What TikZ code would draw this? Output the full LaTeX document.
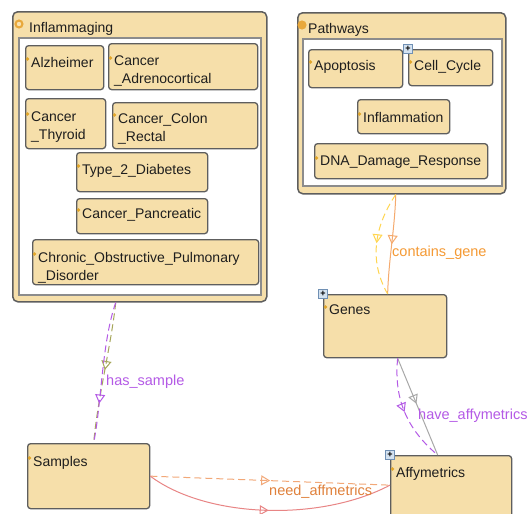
\documentclass[tikz,border=0pt]{standalone}
\usepackage{fontspec}
\setmainfont{Liberation Sans}
\usetikzlibrary{arrows.meta,decorations.markings}
\definecolor{boxfill}{HTML}{F6DFAA}
\definecolor{boxline}{HTML}{5E5E5E}
\definecolor{innerline}{HTML}{8C8C8C}
\definecolor{txtc}{HTML}{1E1E1E}
\definecolor{dotc}{HTML}{E2A62A}
\definecolor{iconor}{HTML}{E8A83C}
\definecolor{iconlt}{HTML}{F8E2B0}
\definecolor{cgline}{HTML}{F5AA6E}
\definecolor{cglabel}{HTML}{F59A34}
\definecolor{cgyel}{HTML}{FFD650}
\definecolor{purp}{HTML}{B45AE6}
\definecolor{olive}{HTML}{A6A65A}
\definecolor{grayl}{HTML}{A8A8A8}
\definecolor{needd}{HTML}{F2A878}
\definecolor{needl}{HTML}{E0803A}
\definecolor{redl}{HTML}{E88585}
\definecolor{plusfill}{HTML}{D4E2F0}
\definecolor{plusline}{HTML}{7090B4}
\tikzset{
  box/.style={draw=boxline, fill=boxfill, rounded corners=3pt, line width=1.3pt, anchor=north west, inner sep=0pt},
  outerbox/.style={draw=boxline, fill=boxfill, rounded corners=5pt, line width=1.5pt, anchor=north west, inner sep=0pt},
  innerbox/.style={draw=innerline, fill=white, line width=1.5pt, anchor=north west, inner sep=0pt},
  txt/.style={anchor=north west, inner sep=0pt, align=left, text=txtc, font=\fontsize{14}{18}\selectfont},
  elabel/.style={anchor=west, inner sep=0pt, font=\fontsize{14.5}{18}\selectfont},
  plusicon/.style={draw=plusline, fill=plusfill, line width=0.8pt, minimum size=9pt, inner sep=0pt, font=\fontsize{9}{9}\selectfont\bfseries},
  marr/.style={postaction={decorate}, decoration={markings, mark=at position #1 with {\arrow{Triangle[open,width=10pt,length=9pt,line width=1pt]}}}},
  edge/.style={line width=1pt},
  dashedge/.style={line width=1pt, dash pattern=on 7pt off 4pt},
}
\newcommand\cbox[7]{%
  \node[box, minimum width=#4, minimum height=#5] (#1) at (#2,#3) {};
  \fill[dotc] ([shift={(2.5,#6+2)}]#1.north west) circle (1.8);
  \node[txt] (#1t) at ([shift={(6,#6)}]#1.north west) {#7};}
\begin{document}
\begin{tikzpicture}[x=1pt,y=-1pt]
\useasboundingbox (0,0) rectangle (531,514);
\clip (0,0) rectangle (531,514);
\fill[white] (0,0) rectangle (531,514);

% Inflammaging group
\node[outerbox, minimum width=254, minimum height=290] (infl) at (12,11) {};
\node[innerbox, minimum width=242, minimum height=257] (inflin) at (18,37) {};
\fill[iconor] ([shift={(7,13)}]infl.north west) circle (4.6);
\fill[iconlt] ([shift={(7,13)}]infl.north west) circle (2.2);
\node[txt] (inflt) at ([shift={(17,11)}]infl.north west) {Inflammaging};

\cbox{alz}{25}{45}{78}{44}{12}{Alzheimer}
\cbox{adr}{108}{43}{149}{46}{13}{Cancer\\\_Adrenocortical}
\cbox{thy}{25}{98}{80}{50}{14}{Cancer\\\_Thyroid}
\cbox{col}{112}{102}{145}{46}{11}{Cancer\_Colon\\\_Rectal}
\cbox{tdm}{76}{152}{131}{39}{12}{Type\_2\_Diabetes}
\cbox{pan}{76}{198}{131}{35}{10}{Cancer\_Pancreatic}
\cbox{copd}{32}{239}{226}{45}{13}{Chronic\_Obstructive\_Pulmonary\\\_Disorder}

% Pathways group
\node[outerbox, minimum width=208, minimum height=181] (pw) at (297,12) {};
\node[innerbox, minimum width=199, minimum height=147] (pwin) at (302,38) {};
\fill[iconor] ([shift={(5,13)}]pw.north west) circle (4.6);
\node[txt] (pwt) at ([shift={(11,11)}]pw.north west) {Pathways};

\cbox{apop}{308}{49}{94}{38}{11}{Apoptosis}
\cbox{cell}{408}{49}{84}{36}{11}{Cell\_Cycle}
\cbox{inflm}{357}{99}{92}{34}{13}{Inflammation}
\cbox{dna}{314}{143}{173}{35}{13}{DNA\_Damage\_Response}
\node[plusicon] (cellp) at (cell.north west) {+};

% Classes
\cbox{genes}{323}{294}{123}{63}{11}{Genes}
\cbox{samples}{27}{443}{122}{65}{13}{Samples}
\cbox{affy}{390}{455}{121}{65}{12}{Affymetrics}
\node[plusicon] (genesp) at (genes.north west) {+};
\node[plusicon] (affyp) at (affy.north west) {+};

% contains_gene
\draw[edge, draw=cgline, marr=0.5] ([shift={(-6,0)}]pw.south) .. controls +(-1,35) and +(1,-35) .. ([shift={(2.5,0)}]genes.north);
\draw[dashedge, draw=cgyel, marr=0.5] ([shift={(-6,0)}]pw.south) .. controls +(-20,30) and +(-20,-35) .. ([shift={(2.5,0)}]genes.north);
\node[elabel, text=cglabel] (cgl) at (392,253) {contains\_gene};

% has_sample
\draw[dashedge, draw=olive, marr=0.48] ([shift={(-24,0)}]infl.south) .. controls +(-5,45) and +(4,-45) .. ([shift={(5,0)}]samples.north);
\draw[dashedge, draw=purp, marr=0.72] ([shift={(-24,0)}]infl.south) .. controls +(-14,40) and +(8,-40) .. ([shift={(5,0)}]samples.north);
\node[elabel, text=purp] (hsl) at (106,382) {has\_sample};

% have_affymetrics
\draw[edge, draw=grayl, marr=0.47] ([shift={(12.5,0)}]genes.south) -- ([shift={(-13.5,0)}]affy.north);
\draw[dashedge, draw=purp, marr=0.5] ([shift={(12.5,0)}]genes.south) .. controls +(-4,40) and +(-31,-26) .. ([shift={(-13.5,0)}]affy.north);
\node[elabel, text=purp] (hal) at (418,416) {have\_affymetrics};

% need_affmetrics
\draw[dashedge, draw=needd, marr=0.5] (samples.east) -- ([shift={(0,-3)}]affy.west);
\draw[edge, draw=redl, marr=0.5] (samples.east) .. controls +(56,42) and +(-70,37) .. ([shift={(0,-3)}]affy.west);
\node[elabel, text=needl] (nal) at (269,492) {need\_affmetrics};
\end{tikzpicture}
\end{document}
